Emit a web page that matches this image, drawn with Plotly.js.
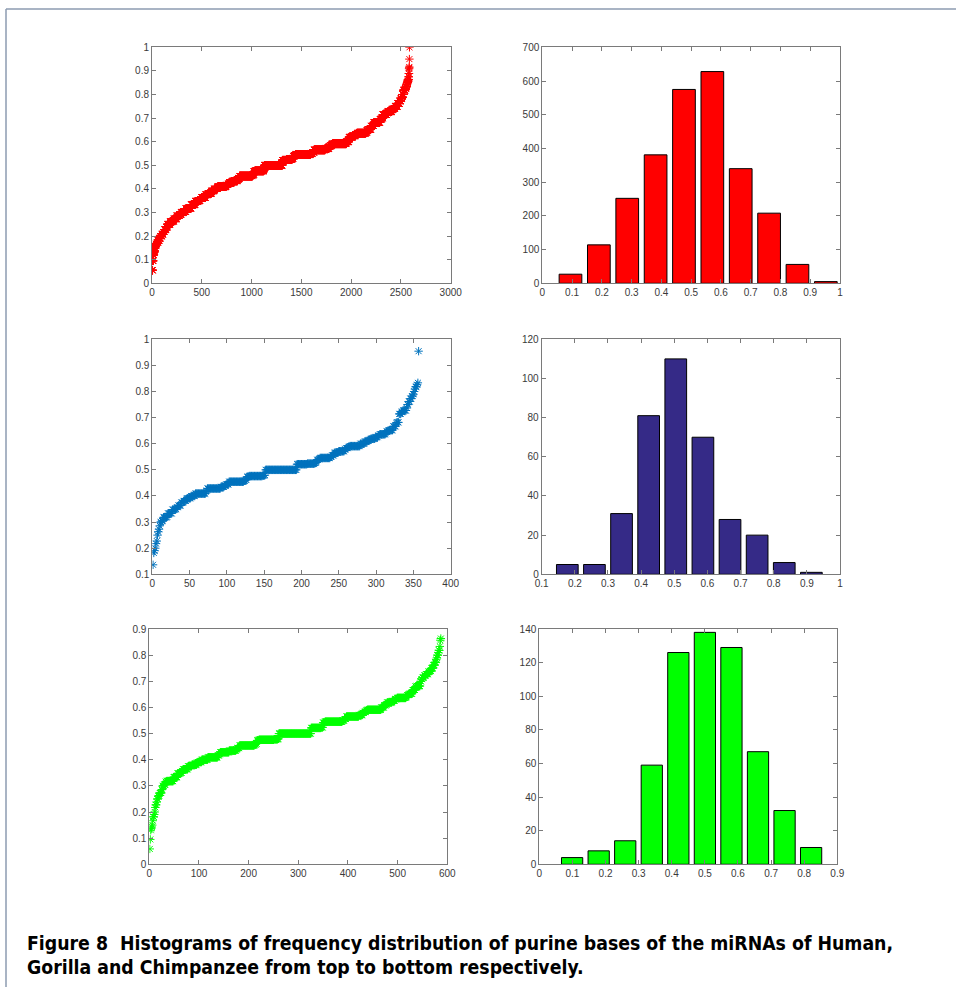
<!DOCTYPE html>
<html><head><meta charset="utf-8">
<script src="https://cdn.plot.ly/plotly-3.0.1.min.js"></script>
<style>html,body{margin:0;padding:0;background:#fff;} #chart{width:956px;height:987px;}</style>
</head><body><div id="chart"></div>
<script>
// ---- Sorted purine fractions (run-length: level, number of miRNAs at that level) ----
const humanLevels = [0.0556,0.0952,0.12,0.1304,0.1364, 0.15,0.1579,0.1667,0.1739,0.1818,0.1905,0.2,0.2083,0.2174,0.2273, 0.2381,0.25,0.2609,0.2632,0.2727,0.2857,0.2917,0.3,0.3043,0.3158,0.3182, 0.3333,0.3478,0.35,0.3571,0.3636,0.375,0.381,0.3913,0.4,0.4091,0.4167,0.4211, 0.4286,0.4348,0.44,0.4444,0.4545,0.4583,0.4615,0.4737,0.4762,0.48,0.5,0.5217, 0.5238,0.5263,0.5294,0.5385,0.5417,0.5455,0.55,0.5556,0.5652,0.5714,0.5789,0.5833,0.5882,0.5909,0.6, 0.619,0.625,0.6316,0.6364,0.64,0.6471,0.6522,0.6667,0.6818,0.6957,0.7, 0.7143,0.7222,0.7273,0.7368,0.7391,0.75,0.7619,0.7727,0.7826,0.7895,0.8, 0.8182,0.8261,0.8333,0.8421,0.85,0.8571,0.8636,0.875,0.8889, 0.9091,0.913,0.9167,0.95,1];
const humanCounts = [6,6,5,5,5, 6,6,10,10,12,12,14,14,14,16, 14,26,24,12,30,30,14,26,22,16,38, 40,30,20,14,40,24,34,30,34,85,20,10, 50,34,8,12,130,8,6,10,90,6,180,41, 50,10,8,10,14,150,20,16,110,40,12,14,8,140,26, 36,30,14,90,10,10,30,30,60,20,10, 40,10,40,14,20,24,20,14,10,6,10, 16,8,8,4,6,6,4,2,2, 1,1,1,1,1];

const gorillaLevels = [0.1364,0.1818,0.1905,0.2,0.2174, 0.2273,0.25,0.2632,0.2727,0.2857, 0.3,0.3043,0.3182,0.32,0.3333,0.3478,0.35,0.3571,0.3636,0.375, 0.381,0.3889,0.3913,0.4,0.4091,0.4167,0.4211,0.4286,0.4348,0.44,0.4444,0.4545, 0.4583,0.4615,0.4737,0.4762,0.4783,0.48,0.5,0.5217,0.5238,0.5263,0.5294,0.5385,0.5417,0.5455, 0.55,0.5556,0.5652,0.5714,0.5789,0.5833,0.5882,0.5909,0.6,0.6087,0.6111,0.6154,0.619,0.625, 0.6316,0.6364,0.64,0.6471,0.65,0.6522,0.6667,0.68,0.6818, 0.7143,0.7222,0.7273,0.7368,0.75,0.7619,0.7727,0.7826,0.7895, 0.8,0.8095,0.8182,0.8261,0.8333, 0.9545];
const gorillaCounts = [1,1,1,1,1, 1,1,1,1,1, 2,2,5,1,6,4,2,2,4,3, 4,1,5,6,14,1,1,18,5,2,4,20, 2,2,3,18,3,1,42,14,10,2,1,2,2,14, 2,3,6,8,2,3,2,14,6,4,2,2,6,4, 2,8,1,2,3,4,4,1,3, 3,2,5,1,2,2,2,2,1, 1,1,2,1,1, 1];

const chimpLevels = [0.0588,0.0952,0.1304,0.1364, 0.1429,0.15,0.1667,0.1818,0.1905,0.2,0.2174, 0.2273,0.2381,0.25,0.2609,0.2632,0.2727,0.2857, 0.3,0.3043,0.3158,0.3182,0.3333,0.3478,0.35,0.3571,0.3636,0.375, 0.381,0.3889,0.3913,0.4,0.4091,0.4167,0.4211,0.4286,0.4348,0.44,0.4444,0.4545, 0.4583,0.4615,0.4737,0.4762,0.4783,0.48,0.5,0.5217,0.5238, 0.5417,0.5455,0.55,0.5556,0.5652,0.5714,0.5789,0.5833,0.5882,0.5909,0.6,0.6087,0.6111, 0.619,0.625,0.6316,0.6364,0.64,0.6471,0.65,0.6522,0.6667,0.68,0.6818, 0.7,0.7083,0.7143,0.7222,0.7273,0.7368,0.7391,0.75,0.7619,0.7727, 0.7826,0.7895,0.8,0.8095,0.8182,0.8333,0.8571,0.8636];
const chimpCounts = [1,1,1,1, 1,1,1,2,1,1,1, 2,1,2,2,1,4,2, 3,3,2,14,8,6,3,2,10,8, 10,2,8,12,20,3,2,18,14,2,5,30, 3,2,4,30,8,2,65,20,4, 4,35,4,4,25,8,3,4,2,28,6,4,2, 10,6,4,18,2,3,2,6,6,2,8, 2,2,4,3,5,3,3,4,3,3, 1,1,2,1,2,1,1,1];

// ---- Histogram bins (centres) and frequencies ----
const humanCenters = [0.0947,0.19,0.2853,0.3806,0.4759,0.5712,0.6665,0.7618,0.8571,0.9524];
const humanFreq = [27,114,252,381,575,628,340,208,56,5];
const gorillaCenters = [0.1773,0.2591,0.3409,0.4227,0.5045,0.5864,0.6682,0.75,0.8318,0.9136];
const gorillaFreq = [5,5,31,81,110,70,28,20,6,1];
const chimpCenters = [0.0991,0.1793,0.2595,0.3397,0.4199,0.5001,0.5803,0.6605,0.7407,0.8209];
const chimpFreq = [4,8,14,59,126,138,129,67,32,10];

const captionLine1 = "Figure 8  Histograms of frequency distribution of purine bases of the miRNAs of Human,";
const captionLine2 = "Gorilla and Chimpanzee from top to bottom respectively.";

function expand(levels, counts){
  const x=[], y=[]; let i=0;
  levels.forEach((v,k)=>{ for(let c=0;c<counts[k];c++){ i++; x.push(i); y.push(v);} });
  return {x,y};
}

function sc(levels, counts, color, xa, ya){
  const d = expand(levels, counts);
  return {type:'scatter', mode:'markers', x:d.x, y:d.y, xaxis:xa, yaxis:ya,
    marker:{symbol:'asterisk-open', size:7, color:color, line:{color:color, width:1}},
    hoverinfo:'skip', showlegend:false};
}
function hb(centers, freq, color, xa, ya){
  return {type:'bar', x:centers, y:freq, xaxis:xa, yaxis:ya,
    width:0.8*(centers[1]-centers[0]),
    marker:{color:color, line:{color:'#000', width:1}},
    hoverinfo:'skip', showlegend:false};
}

const data = [
  sc(humanLevels, humanCounts, '#FF0000', 'x', 'y'),
  hb(humanCenters, humanFreq, '#FF0000', 'x2', 'y2'),
  sc(gorillaLevels, gorillaCounts, '#0072BD', 'x3', 'y3'),
  hb(gorillaCenters, gorillaFreq, '#352A87', 'x4', 'y4'),
  sc(chimpLevels, chimpCounts, '#00FF00', 'x5', 'y5'),
  hb(chimpCenters, chimpFreq, '#00FF00', 'x6', 'y6')
];

function ax(domain, range, dtick, anchor){
  return {domain:domain, range:range, dtick:dtick, tick0:0, anchor:anchor,
    showline:true, mirror:'ticks', linecolor:'#7a7a7a', linewidth:1,
    ticks:'inside', ticklen:4, tickcolor:'#7a7a7a', tickwidth:1,
    showgrid:false, zeroline:false, fixedrange:true,
    tickfont:{family:'Liberation Sans, Arial, sans-serif', size:10, color:'#3a3a3a'}};
}
const W=956, H=987;
const fx = p => p/W, fy = p => 1 - p/H;

const layout = {
  width:W, height:H, margin:{l:0,r:0,t:0,b:0}, paper_bgcolor:'#fff', plot_bgcolor:'#fff',
  showlegend:false, bargap:0,
  xaxis:  ax([fx(152), fx(450.7)], [0,3000], 500, 'y'),
  yaxis:  ax([fy(283.3), fy(47.3)], [0,1], 0.1, 'x'),
  xaxis2: ax([fx(542.3), fx(840)], [0,1], 0.1, 'y2'),
  yaxis2: ax([fy(283.3), fy(47.3)], [0,700], 100, 'x2'),
  xaxis3: ax([fx(152.3), fx(450.7)], [0,400], 50, 'y3'),
  yaxis3: ax([fy(574.3), fy(339.3)], [0.1,1], 0.1, 'x3'),
  xaxis4: ax([fx(541.7), fx(840)], [0.1,1], 0.1, 'y4'),
  yaxis4: ax([fy(574.3), fy(339.3)], [0,120], 20, 'x4'),
  xaxis5: ax([fx(149.3), fx(447.3)], [0,600], 100, 'y5'),
  yaxis5: ax([fy(864.3), fy(629)], [0,0.9], 0.1, 'x5'),
  xaxis6: ax([fx(539.3), fx(837.3)], [0,0.9], 0.1, 'y6'),
  yaxis6: ax([fy(864.3), fy(629)], [0,140], 20, 'x6'),
  shapes:[
    {type:'line', xref:'paper', yref:'paper', x0:fx(6), x1:1.01, y0:fy(9), y1:fy(9), line:{color:'#8c9bb0', width:1.5}},
    {type:'line', xref:'paper', yref:'paper', x0:fx(6), x1:fx(6), y0:fy(9), y1:-0.01, line:{color:'#8c9bb0', width:1.5}}
  ],
  annotations:[
    {xref:'paper', yref:'paper', x:fx(25), y:fy(943), xanchor:'left', yanchor:'middle', showarrow:false,
     text:'<b>'+captionLine1+'</b>', font:{family:'DejaVu Sans Condensed, sans-serif', size:19.3, color:'#000'}},
    {xref:'paper', yref:'paper', x:fx(25), y:fy(967), xanchor:'left', yanchor:'middle', showarrow:false,
     text:'<b>'+captionLine2+'</b>', font:{family:'DejaVu Sans Condensed, sans-serif', size:19.3, color:'#000'}}
  ]
};

Plotly.newPlot('chart', data, layout, {staticPlot:true, displayModeBar:false});
</script>
</body></html>
